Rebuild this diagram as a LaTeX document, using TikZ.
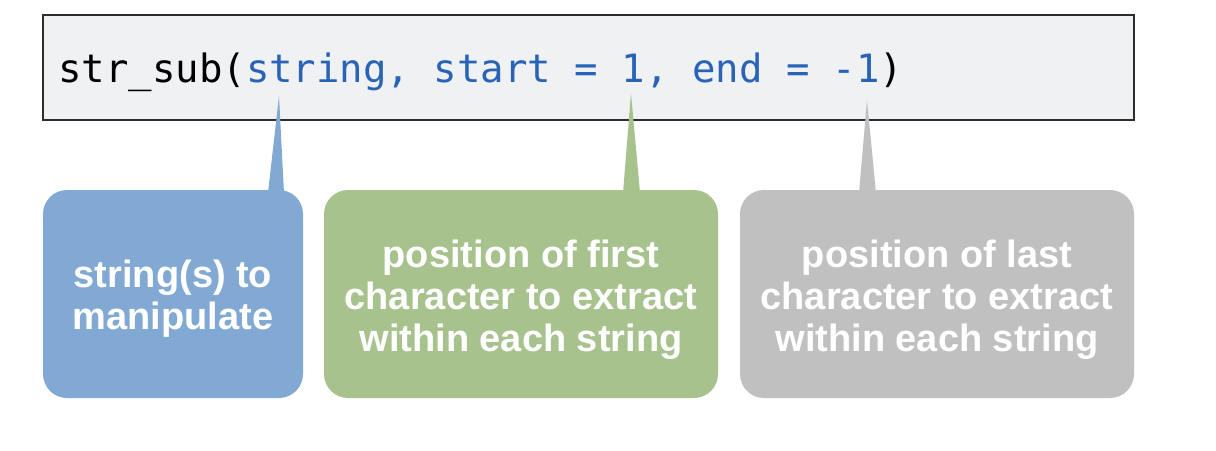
\documentclass[tikz,border=0pt]{standalone}
\usepackage{fontspec}
\setmainfont{Liberation Sans}
\setmonofont{DejaVu Sans Mono}
\definecolor{codeblue}{RGB}{40,99,184}
\definecolor{codebg}{RGB}{240,241,243}
\definecolor{codeframe}{RGB}{45,45,45}
\definecolor{argblue}{RGB}{130,169,211}
\definecolor{arggreen}{RGB}{168,194,142}
\definecolor{arggray}{RGB}{192,192,192}
\usetikzlibrary{positioning,calc}

\begin{document}
\begin{tikzpicture}[
  x=1pt,y=-1pt,
  codebox/.style={draw=codeframe,fill=codebg,line width=1.2pt,
    minimum width=1091pt,minimum height=105pt,inner sep=0pt},
  callout/.style={rounded corners=24pt,minimum height=208pt,inner sep=0pt},
  calltext/.style={align=center,text=white,inner sep=0pt,
    font=\fontsize{38}{42}\selectfont\bfseries}
]
  \useasboundingbox (0,0) rectangle (1216,450);
  % function call
  \node[codebox] (call) at (588.5,67.5) {};
  \node[anchor=base west,inner sep=0pt,font=\fontsize{39}{47}\selectfont\ttfamily]
    (code) at (58,82) {str\char"5F sub(\textcolor{codeblue}{string, start = 1, end = -1})};
  % argument boxes
  \node[callout,fill=argblue,minimum width=260pt] (str) at (173,294) {};
  \node[callout,fill=arggreen,minimum width=394pt] (start) at (521,294) {};
  \node[callout,fill=arggray,minimum width=394pt] (end) at (937,294) {};
  \node[calltext] (strtext) at ([yshift=-5pt]str.center) {string(s) to\\manipulate};
  \node[calltext] (starttext) at ([yshift=-6pt]start.center)
    {position of first\\character to extract\\within each string};
  \node[calltext] (endtext) at ([yshift=-6pt]end.center)
    {position of last\\character to extract\\within each string};
  % pointers
  \coordinate (tipA) at (279,96);
  \coordinate (tipB) at (631,93);
  \coordinate (tipC) at (867,100);
  \fill[argblue] (tipA) -- ([xshift=-11pt,yshift=-3pt]tipA |- str.north)
    -- ([xshift=5pt,yshift=-3pt]tipA |- str.north) -- cycle;
  \fill[arggreen] (tipB) -- ([xshift=-8pt,yshift=-3pt]tipB |- start.north)
    -- ([xshift=9pt,yshift=-3pt]tipB |- start.north) -- cycle;
  \fill[arggray] (tipC) -- ([xshift=-8pt,yshift=-3pt]tipC |- end.north)
    -- ([xshift=9pt,yshift=-3pt]tipC |- end.north) -- cycle;
\end{tikzpicture}
\end{document}
